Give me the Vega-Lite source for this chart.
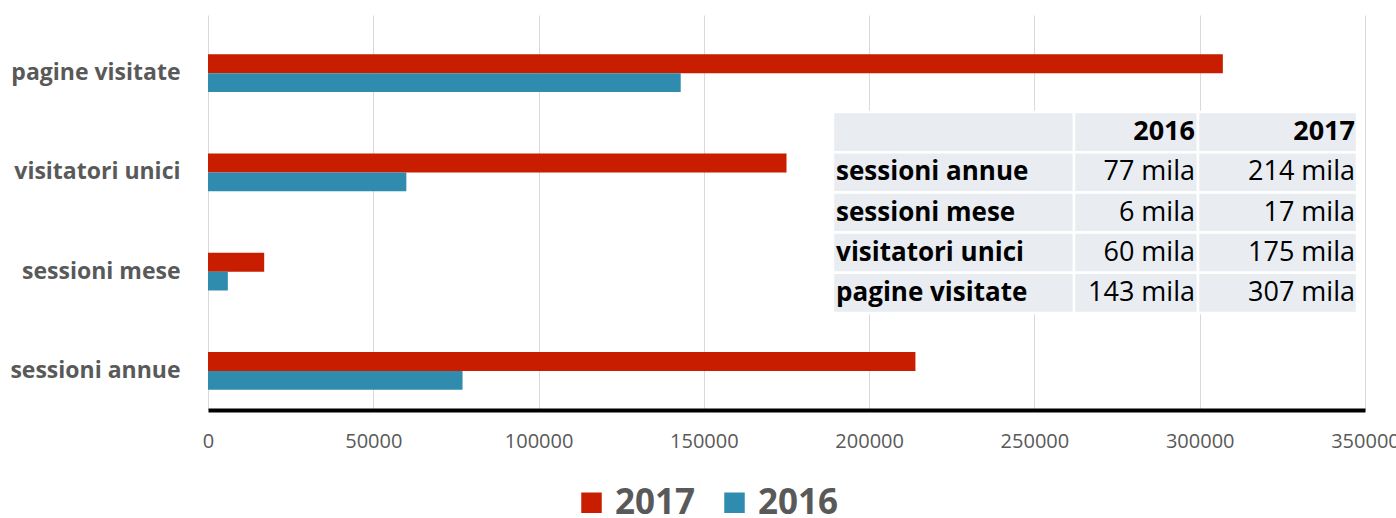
{
  "$schema": "https://vega.github.io/schema/vega-lite/v6.json",
  "width": 1157,
  "height": 395,
  "autosize": {"type": "none"},
  "padding": {"left": 208, "top": 15, "right": 31, "bottom": 108},
  "background": "white",
  "config": {"font": "Open Sans", "view": {"stroke": null}},
  "datasets": {
    "visite": [
      {"metrica": "pagine visitate", "anno": "2017", "valore": 307000},
      {"metrica": "pagine visitate", "anno": "2016", "valore": 143000},
      {"metrica": "visitatori unici", "anno": "2017", "valore": 175000},
      {"metrica": "visitatori unici", "anno": "2016", "valore": 60000},
      {"metrica": "sessioni mese", "anno": "2017", "valore": 17000},
      {"metrica": "sessioni mese", "anno": "2016", "valore": 6000},
      {"metrica": "sessioni annue", "anno": "2017", "valore": 214000},
      {"metrica": "sessioni annue", "anno": "2016", "valore": 77000}
    ],
    "tabella": [
      {"riga": "intestazione", "etichetta": "", "v2016": "2016", "v2017": "2017"},
      {"riga": "sessioni annue", "etichetta": "sessioni annue", "v2016": "77 mila", "v2017": "214 mila"},
      {"riga": "sessioni mese", "etichetta": "sessioni mese", "v2016": "6 mila", "v2017": "17 mila"},
      {"riga": "visitatori unici", "etichetta": "visitatori unici", "v2016": "60 mila", "v2017": "175 mila"},
      {"riga": "pagine visitate", "etichetta": "pagine visitate", "v2016": "143 mila", "v2017": "307 mila"}
    ]
  },
  "layer": [
    {
      "data": {"name": "visite"},
      "mark": {"type": "bar"},
      "encoding": {
        "y": {
          "field": "metrica",
          "type": "nominal",
          "sort": ["pagine visitate", "visitatori unici", "sessioni mese", "sessioni annue"],
          "scale": {"paddingInner": 0.62, "paddingOuter": 0.3, "align": 0.66},
          "axis": {
            "title": null,
            "domain": false,
            "ticks": false,
            "grid": false,
            "labelFontSize": 23,
            "labelFontWeight": "bold",
            "labelColor": "#595959",
            "labelPadding": 28,
            "labelLimit": 400
          }
        },
        "x": {
          "field": "valore",
          "type": "quantitative",
          "scale": {"domain": [0, 350000], "nice": false},
          "axis": {
            "title": null,
            "values": [0, 50000, 100000, 150000, 200000, 250000, 300000, 350000],
            "format": "d",
            "labelFontSize": 20,
            "labelColor": "#595959",
            "labelPadding": 21,
            "labelFlush": false,
            "labelOverlap": false,
            "labelBound": false,
            "ticks": false,
            "domainColor": "#000000",
            "domainWidth": 4,
            "gridColor": "#d9d9d9",
            "gridWidth": 1
          }
        },
        "yOffset": {
          "field": "anno",
          "type": "nominal",
          "sort": ["2017", "2016"],
          "scale": {"paddingInner": 0, "paddingOuter": 0}
        },
        "color": {
          "field": "anno",
          "type": "nominal",
          "scale": {"domain": ["2017", "2016"], "range": ["#c91d00", "#2f8cae"]},
          "legend": {
            "title": null,
            "orient": "none",
            "legendX": 366,
            "legendY": 470,
            "direction": "horizontal",
            "symbolType": "square",
            "symbolSize": 420,
            "symbolStrokeWidth": 0,
            "labelFontSize": 35,
            "labelFontWeight": "bold",
            "labelColor": "#595959",
            "labelOffset": 6,
            "columnPadding": 21,
            "padding": 0
          }
        }
      }
    },
    {
      "data": {"name": "tabella"},
      "encoding": {
        "y": {
          "field": "riga",
          "type": "nominal",
          "scale": {
            "domain": ["_a", "_b", "intestazione", "sessioni annue", "sessioni mese", "visitatori unici", "pagine visitate", "_c", "_d"],
            "paddingInner": 0,
            "paddingOuter": 0.413,
            "align": 0.5
          },
          "axis": null
        }
      },
      "layer": [
        {
          "mark": {"type": "rect", "fill": "#e9ecf1", "stroke": "white", "strokeWidth": 2.5},
          "encoding": {"x": {"datum": 189066, "type": "quantitative"}, "x2": {"datum": 261970}}
        },
        {
          "mark": {"type": "rect", "fill": "#e9ecf1", "stroke": "white", "strokeWidth": 2.5},
          "encoding": {"x": {"datum": 261970, "type": "quantitative"}, "x2": {"datum": 299481}}
        },
        {
          "mark": {"type": "rect", "fill": "#e9ecf1", "stroke": "white", "strokeWidth": 2.5},
          "encoding": {"x": {"datum": 299481, "type": "quantitative"}, "x2": {"datum": 347580}}
        },
        {
          "transform": [{"filter": "datum.riga != 'intestazione'"}],
          "mark": {"type": "text", "align": "left", "baseline": "middle", "fontSize": 26, "fontWeight": "bold", "color": "#000000"},
          "encoding": {"x": {"datum": 190000, "type": "quantitative"}, "text": {"field": "etichetta"}}
        },
        {
          "transform": [{"filter": "datum.riga != 'intestazione'"}],
          "mark": {"type": "text", "align": "right", "baseline": "middle", "fontSize": 27, "color": "#000000"},
          "encoding": {"x": {"datum": 298574, "type": "quantitative"}, "text": {"field": "v2016"}}
        },
        {
          "transform": [{"filter": "datum.riga != 'intestazione'"}],
          "mark": {"type": "text", "align": "right", "baseline": "middle", "fontSize": 27, "color": "#000000"},
          "encoding": {"x": {"datum": 346975, "type": "quantitative"}, "text": {"field": "v2017"}}
        },
        {
          "transform": [{"filter": "datum.riga == 'intestazione'"}],
          "mark": {"type": "text", "align": "right", "baseline": "middle", "fontSize": 27, "fontWeight": "bold", "color": "#000000"},
          "encoding": {"x": {"datum": 298574, "type": "quantitative"}, "text": {"field": "v2016"}}
        },
        {
          "transform": [{"filter": "datum.riga == 'intestazione'"}],
          "mark": {"type": "text", "align": "right", "baseline": "middle", "fontSize": 27, "fontWeight": "bold", "color": "#000000"},
          "encoding": {"x": {"datum": 346975, "type": "quantitative"}, "text": {"field": "v2017"}}
        }
      ]
    }
  ],
  "resolve": {"scale": {"y": "independent"}}
}
